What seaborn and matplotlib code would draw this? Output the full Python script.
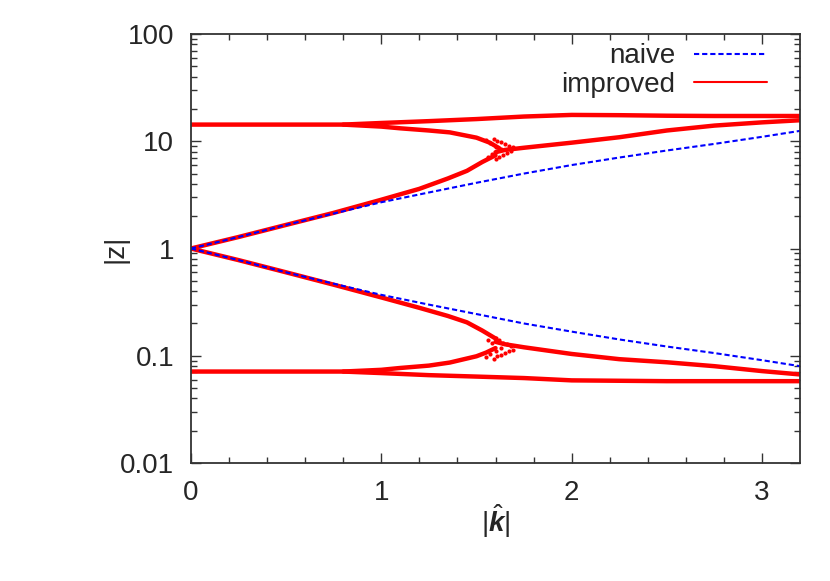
import numpy as np
import pandas as pd
import matplotlib
matplotlib.use("Agg")
import matplotlib.pyplot as plt
from matplotlib.lines import Line2D
import seaborn as sns

# naive branches
naive_k = [0, 0.25, 0.5, 0.75, 1.0, 1.25, 1.5, 1.75, 2.0, 2.25, 2.5, 2.75, 3.0, 3.2]
naive_up = [1.0, 1.28, 1.66, 2.12, 2.7, 3.33, 4.1, 5.0, 6.0, 7.05, 8.2, 9.45, 11.0, 12.5]
naive_lo = [1.0, 0.78, 0.6, 0.47, 0.37, 0.3, 0.245, 0.2, 0.168, 0.142, 0.122, 0.106, 0.091, 0.080]

# improved branches
top_k = [0, 0.8, 1.0, 1.25, 1.5, 1.75, 2.0, 2.25, 2.5, 2.75, 3.0, 3.2]
top_z = [14.3, 14.3, 14.8, 15.4, 16.1, 17.0, 17.6, 17.5, 17.3, 17.2, 17.2, 17.2]
topdn_k = [0.8, 1.0, 1.1, 1.25, 1.36, 1.5, 1.57, 1.62]
topdn_z = [14.3, 13.7, 13.2, 12.6, 12.1, 10.8, 9.7, 8.6]
rise_k = [0, 0.25, 0.5, 0.75, 1.0, 1.2, 1.35, 1.45, 1.53, 1.6]
rise_z = [1.0, 1.28, 1.66, 2.15, 2.85, 3.6, 4.5, 5.3, 6.4, 7.4]
mergeup_k = [1.6, 1.65, 1.75, 2.0, 2.25, 2.5, 2.75, 3.0, 3.2]
mergeup_z = [7.9, 8.3, 8.7, 9.7, 10.9, 12.6, 14.0, 15.0, 15.7]

bot_k = [0, 0.8, 1.0, 1.25, 1.5, 1.75, 2.0, 2.5, 3.0, 3.2]
bot_z = [0.0713, 0.0713, 0.069, 0.066, 0.064, 0.062, 0.059, 0.058, 0.058, 0.058]
botup_k = [0.8, 1.0, 1.1, 1.25, 1.36, 1.5, 1.55, 1.6]
botup_z = [0.0713, 0.074, 0.077, 0.081, 0.0865, 0.099, 0.107, 0.118]
fall_k = [0, 0.25, 0.5, 0.75, 1.0, 1.2, 1.35, 1.45, 1.53, 1.6]
fall_z = [1.0, 0.78, 0.6, 0.46, 0.35, 0.28, 0.235, 0.205, 0.172, 0.145]
mergelo_k = [1.6, 1.65, 1.75, 2.0, 2.25, 2.5, 2.75, 3.0, 3.2]
mergelo_z = [0.135, 0.128, 0.12, 0.104, 0.093, 0.087, 0.08, 0.072, 0.067]

# scattered points in the two loops near |k| ~ 1.6
loop_k = [1.55, 1.57, 1.59, 1.61, 1.63, 1.65, 1.67, 1.69, 1.56, 1.58, 1.6, 1.62,
          1.64, 1.66, 1.68, 1.6, 1.63,
          1.55, 1.57, 1.59, 1.61, 1.63, 1.65, 1.67, 1.69, 1.56, 1.58, 1.6, 1.62,
          1.64, 1.66, 1.68, 1.6, 1.63]
loop_z = [10.2, 9.6, 10.6, 10.0, 9.8, 9.4, 9.1, 8.8, 7.2, 7.6, 6.9, 7.1,
          7.5, 7.8, 8.1, 8.9, 8.4,
          0.098, 0.104, 0.094, 0.1, 0.102, 0.106, 0.11, 0.114, 0.139, 0.132, 0.145, 0.141,
          0.133, 0.128, 0.123, 0.112, 0.119]

sns.set_style("ticks")
plt.rcParams["font.family"] = ["Liberation Sans", "DejaVu Sans"]
plt.rcParams["mathtext.fontset"] = "custom"
plt.rcParams["mathtext.rm"] = "Liberation Sans"
plt.rcParams["mathtext.it"] = "Liberation Sans:italic"
plt.rcParams["mathtext.bf"] = "Liberation Sans:bold"
plt.rcParams["mathtext.bfit"] = "Liberation Sans:bold:italic"

naive = pd.DataFrame({
    "k": naive_k + naive_k,
    "z": naive_up + naive_lo,
    "branch": ["up"] * len(naive_k) + ["lo"] * len(naive_k),
})

parts = [(top_k, top_z), (topdn_k, topdn_z), (rise_k, rise_z), (mergeup_k, mergeup_z),
         (bot_k, bot_z), (botup_k, botup_z), (fall_k, fall_z), (mergelo_k, mergelo_z)]
rows = []
for i, (kk, zz) in enumerate(parts):
    for a, b in zip(kk, zz):
        rows.append((a, b, i))
improved = pd.DataFrame(rows, columns=["k", "z", "branch"])
loops = pd.DataFrame({"k": loop_k, "z": loop_z})

fig, ax = plt.subplots(figsize=(8.3, 5.81), dpi=100)
fig.subplots_adjust(left=0.230, right=0.964, top=0.9415, bottom=0.203)

sns.lineplot(data=improved, x="k", y="z", units="branch", estimator=None, sort=False,
             color="#ff0000", lw=3.2, ax=ax)
sns.scatterplot(data=loops, x="k", y="z", color="#ff0000", s=9, linewidth=0, ax=ax)
sns.lineplot(data=naive, x="k", y="z", units="branch", estimator=None, sort=False,
             color="#0000ff", lw=1.5, dashes=False, ax=ax)
for ln in ax.get_lines()[-2:]:
    ln.set_dashes((2.5, 1.4))

ax.set_yscale("log")
ax.set_xlim(0, 3.2)
ax.set_ylim(0.01, 100)
ax.set_yticks([0.01, 0.1, 1, 10, 100])
ax.set_yticklabels(["0.01", "0.1", "1", "10", "100"])
ax.set_xticks([0, 1, 2, 3])
ax.set_xticklabels(["0", "1", "2", "3"])
ax.set_xticks(np.arange(0.2, 3.2, 0.2), minor=True)
ax.tick_params(which="both", direction="in", top=True, right=True, labelsize=20, pad=12,
               color="#333333", width=1)
ax.tick_params(which="major", length=7)
ax.tick_params(which="minor", length=4)
ax.yaxis.set_minor_formatter(plt.NullFormatter())
for s in ax.spines.values():
    s.set_color("#333333")
    s.set_linewidth(1.3)

ax.set_xlabel(r"$|\hat{\mathbfit{k}}|$", fontsize=20, labelpad=-2)
ax.set_ylabel("|z|", fontsize=20, labelpad=-6)

handles = [Line2D([], [], color="#0000ff", lw=1.5, dashes=(2.5, 1.4)),
           Line2D([], [], color="#ff0000", lw=1.5)]
ax.legend(handles, ["naive", "improved"], loc="upper right", bbox_to_anchor=(0.946, 0.978),
          frameon=False, markerfirst=False, fontsize=20, handlelength=2.65,
          handletextpad=0.65, labelspacing=0.08, borderpad=0, borderaxespad=0)

fig.savefig("out.png", dpi=100)
